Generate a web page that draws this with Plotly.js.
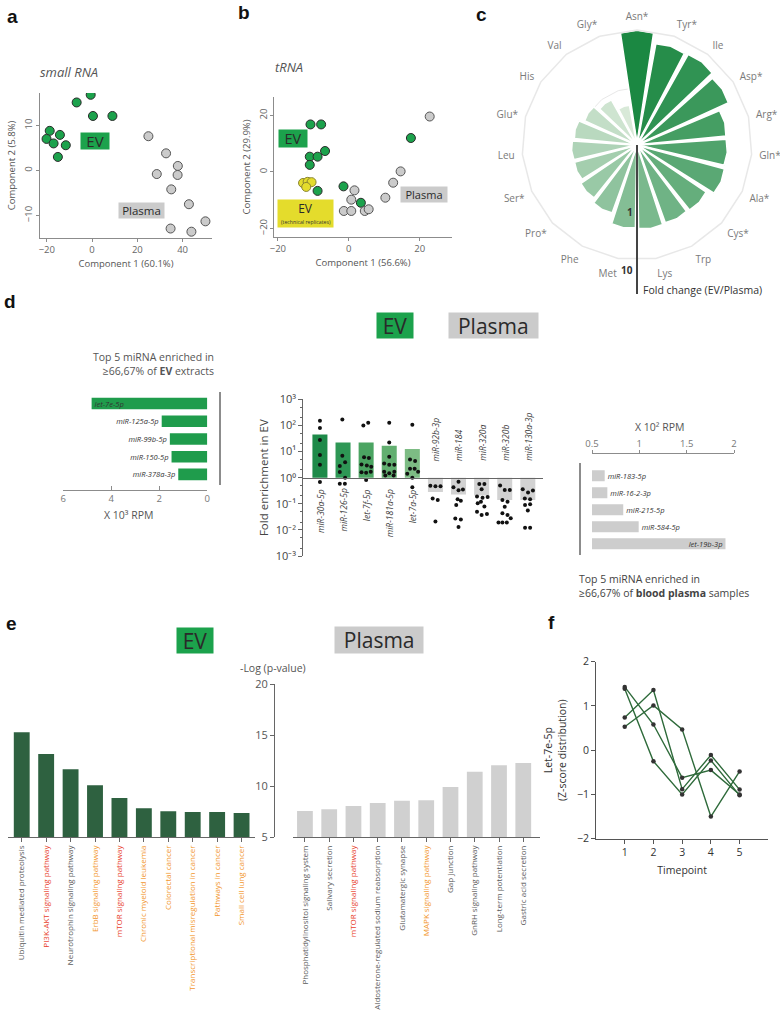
<!DOCTYPE html>
<html><head><meta charset="utf-8">
<script src="https://cdn.plot.ly/plotly-3.0.1.min.js"></script>
<style>html,body{margin:0;padding:0;background:#fff;}#chart{width:780px;height:1018px;}</style>
</head><body><div id="chart"></div>
<script>
const W=780,H=1018;
const px=v=>v/W, py=v=>1-v/H;
const FONT="'Open Sans', sans-serif";

// ---------- a: small RNA PCA ----------
const aEV_x=[-0.6,-6.8,0.4,9.0,-18.7,-20.1,-14.2,-17.0,-11.6,-15.1];
const aEV_y=[16.8,15.1,12.1,12.1,8.8,7.0,7.9,6.0,5.6,3.0];
const aPl_x=[24.9,32.7,37.9,28.6,37.8,35.0,42.8,50.1,34.7,43.9];
const aPl_y=[7.6,3.8,1.0,-0.8,-1.0,-4.2,-7.5,-11.3,-12.9,-13.6];
// ---------- b: tRNA PCA ----------
const bEV_x=[-10.8,-7.8,-6.7,-11.0,-8.8,-11.0,-8.8,-1.5,3.4,17.5];
const bEV_y=[16.8,16.8,7.4,5.4,5.4,2.5,-6.7,-5.1,-10.9,12.0];
const bRep_x=[-12.9,-11.6,-10.5,-12.0];
const bRep_y=[-3.9,-3.5,-3.6,-5.3];
const bPl_x=[22.8,14.6,12.5,10.3,1.6,0.7,-1.4,0.7,4.5,5.6];
const bPl_y=[19.6,0.2,-3.8,-9.1,-6.5,-9.8,-13.8,-13.8,-13.8,-13.2];
// ---------- c: tRNA fold change ----------
const cAcids=['Asn*','Tyr*','Ile','Asp*','Arg*','Gln*','Ala*','Cys*','Trp','Lys','Met','Phe','Pro*','Ser*','Leu','Glu*','His','Val','Gly*'];
const cFold=[10,6.6,6.9,6.0,3.8,3.8,4.0,3.0,2.9,3.0,2.9,1.9,1.6,1.4,1.4,1.3,1.05,0.83,0.52];
const cRadialTicks=['1','10'];
// ---------- d: miRNA ----------
const dEV_names=['let-7e-5p','miR-125a-5p','miR-99b-5p','miR-150-5p','miR-378a-3p'];
const dEV_rpm=[4.82,1.9,1.56,1.49,1.21];
const dMid_names=['miR-30a-5p','miR-126-5p','let-7f-5p','miR-181a-5p','let-7a-5p','miR-92b-3p','miR-184','miR-320a','miR-320b','miR-130a-3p'];
const dMid_fold=[45,22.4,22.4,16.7,12.5,0.283,0.224,0.205,0.14,0.14];
const dMid_dots=[
 [150,79,27.5,7.3,3.1,0.68],
 [170,6.9,3.9,2.8,1.65,1.0,0.59,0.59],
 [100,126,6.0,5.6,3.2,2.9,2.6,1.6,1.55,1.7,0.82],
 [126,22.4,6.3,3.5,3.1,3.1,1.7,1.46,1.7,1.2,1.2],
 [105,5.0,4.3,2.2,2.2,1.7,1.4,1.0,0.43],
 [0.49,0.47,0.47,0.16,0.14,0.021],
 [0.7,0.43,0.33,0.35,0.15,0.13,0.09,0.027,0.025,0.013],
 [0.57,0.57,0.36,0.19,0.17,0.18,0.12,0.105,0.078,0.05,0.037,0.041],
 [0.5,0.34,0.34,0.14,0.12,0.077,0.043,0.037,0.028,0.019,0.019,0.019],
 [0.36,0.27,0.32,0.16,0.15,0.09,0.095,0.055,0.012,0.012]
];
const dMid_jitter=[
 [0,0,0,0,0,0],
 [-0.03,-0.03,0.09,-0.14,-0.14,0.09,-0.14,0.08],
 [-0.12,0.09,-0.09,0.12,-0.2,0.03,0.22,-0.2,0,0.2,0],
 [0,0,0,-0.22,0,0.22,-0.22,0,0.22,-0.17,0.19],
 [0,-0.1,0.12,-0.1,0.1,0.25,-0.22,0,0],
 [-0.22,0,0.22,-0.12,0.1,0],
 [0,-0.22,0,0.19,-0.04,0.1,-0.1,-0.14,0.1,0],
 [-0.1,0.12,0,-0.2,0.04,0.26,-0.03,-0.17,0.12,-0.2,0,0.23],
 [-0.2,0,0.22,-0.1,0.12,0,-0.1,0.12,0.26,-0.27,-0.1,0.09],
 [-0.22,0.01,0.22,-0.13,0.1,-0.12,0.1,0,-0.12,0.1]
];
const dMid_ticks=['10⁻³','10⁻²','10⁻¹','10⁰','10¹','10²','10³'];
const dPl_names=['miR-183-5p','miR-16-2-3p','miR-215-5p','miR-584-5p','let-19b-3p'];
const dPl_rpm=[0.634,0.662,0.83,0.993,1.91];
// ---------- e: pathways ----------
const eEV_names=['Ubiquitin mediated proteolysis','PI3K-AKT signaling pathway','Neurotrophin signaling pathway','ErbB signaling pathway','mTOR signaling pathway','Chronic myeloid leukemia','Colorectal cancer','Transcriptional misregulation in cancer','Pathways in cancer','Small cell lung cancer'];
const eEV_vals=[15.27,13.15,11.65,10.09,8.85,7.84,7.54,7.48,7.48,7.38];
const eEV_kind=['other','mtor','other','cancer','mtor','cancer','cancer','cancer','cancer','cancer'];
const ePl_names=['Phosphatidylinositol signaling system','Salivary secretion','mTOR signaling pathway','Aldosterone-regulated sodium reabsorption','Glutamatergic synapse','MAPK signaling pathway','Gap junction','GnRH signaling pathway','Long-term potentiation','Gastric acid secretion'];
const ePl_vals=[7.57,7.74,8.06,8.36,8.58,8.62,9.92,11.42,12.05,12.27];
const ePl_kind=['other','other','mtor','other','other','cancer','other','other','other','other'];
// ---------- f: time course ----------
const fTime=[1,2,3,4,5];
const fA=[0.74,1.36,-0.88,-0.11,-0.89];
const fB=[0.53,1.01,0.47,-1.5,-0.48];
const fC=[1.43,0.58,-0.62,-0.45,-1.0];
const fD=[1.39,-0.25,-1.0,-0.23,-1.02];

// ---------- styling ----------
const GREEN='#1ca24c', GRAY='#cbcbcb', YEL='#e4dc2c';
const kindColor={other:'#5a5a5a',mtor:'#e8412c',cancer:'#f2962c'};
function lerpColor(a,b,t){return 'rgb('+a.map((v,i)=>Math.round(v+(b[i]-v)*t)).join(',')+')';}
const cColors=cAcids.map((_,i)=>lerpColor([27,136,66],[216,233,216],i/(cAcids.length-1)));

const traces=[];
const mk=(c,l)=>({size:9,color:c,line:{color:l,width:1}});
traces.push({type:'scatter',mode:'markers',x:aEV_x,y:aEV_y,xaxis:'x',yaxis:'y',marker:mk(GREEN,'#2a2a2a')});
traces.push({type:'scatter',mode:'markers',x:aPl_x,y:aPl_y,xaxis:'x',yaxis:'y',marker:mk(GRAY,'#555')});
traces.push({type:'scatter',mode:'markers',x:bEV_x,y:bEV_y,xaxis:'x2',yaxis:'y2',marker:mk(GREEN,'#2a2a2a')});
traces.push({type:'scatter',mode:'markers',x:bPl_x,y:bPl_y,xaxis:'x2',yaxis:'y2',marker:mk(GRAY,'#555')});
traces.push({type:'scatter',mode:'markers',x:bRep_x,y:bRep_y,xaxis:'x2',yaxis:'y2',marker:mk(YEL,'#8a8530')});

traces.push({type:'barpolar',theta:cAcids,r:cFold,subplot:'polar',marker:{color:cColors,line:{color:'#fff',width:2}}});

traces.push({type:'bar',orientation:'h',x:dEV_rpm,y:dEV_names,xaxis:'x3',yaxis:'y3',marker:{color:'#1f9c4c'},
  text:dEV_names,textposition:['inside','outside','outside','outside','outside'],insidetextanchor:'end',constraintext:'none',
  textfont:{family:FONT,size:7.5,color:'#333',style:'italic'},cliponaxis:false});
const midColors=['#1e8a49','#2e9755','#4ba462','#62af70','#7dbc84','#d2d2d2','#d2d2d2','#d2d2d2','#d2d2d2','#d2d2d2'];
traces.push({type:'bar',x:dMid_names,y:dMid_fold.map(v=>v-1),base:dMid_fold.map(()=>1),xaxis:'x4',yaxis:'y4',marker:{color:midColors}});
const dotX=[],dotY=[];
dMid_dots.forEach((arr,i)=>arr.forEach((v,j)=>{dotX.push(i+dMid_jitter[i][j]);dotY.push(v);}));
traces.push({type:'scatter',mode:'markers',x:dotX,y:dotY,xaxis:'x5',yaxis:'y4',marker:{size:4,color:'#111'},cliponaxis:false});
traces.push({type:'bar',orientation:'h',x:dPl_rpm,y:dPl_names,xaxis:'x6',yaxis:'y6',marker:{color:'#cdcdcd'},
  text:dPl_names,textposition:['outside','outside','outside','outside','inside'],insidetextanchor:'end',constraintext:'none',
  textfont:{family:FONT,size:7.5,color:'#333',style:'italic'},cliponaxis:false});

traces.push({type:'bar',x:eEV_names,y:eEV_vals,xaxis:'x7',yaxis:'y7',marker:{color:'#2e6140'}});
traces.push({type:'bar',x:ePl_names,y:ePl_vals,xaxis:'x8',yaxis:'y8',marker:{color:'#d0d0d0'}});

[fA,fB,fC,fD].forEach(s=>traces.push({type:'scatter',mode:'lines+markers',x:fTime,y:s,xaxis:'x9',yaxis:'y9',
  line:{color:'#2f6b3b',width:1.4},marker:{size:4.5,color:'#333'}}));
traces.forEach(t=>{t.showlegend=false;t.hoverinfo='skip';});

const base=o=>Object.assign({showgrid:false,zeroline:false,showline:true,linecolor:'#8c8c8c',tickcolor:'#8c8c8c',linewidth:1,fixedrange:true,tickfont:{family:FONT,size:9.5,color:'#666'}},o);
const tf=(s,c)=>({family:FONT,size:s,color:c});

const layout={
 width:W,height:H,margin:{l:0,r:0,t:0,b:0},paper_bgcolor:'#fff',plot_bgcolor:'rgba(0,0,0,0)',
 font:{family:FONT,color:'#555'},showlegend:false,bargap:0.35,
 xaxis:base({domain:[px(40),px(212)],range:[-23,53],anchor:'y',ticks:'outside',ticklen:3,tickvals:[-20,0,20,40],
   title:{text:'Component 1 (60.1%)',font:tf(9.5,'#555'),standoff:4}}),
 yaxis:base({domain:[py(238),py(93)],range:[-15,17.2],anchor:'x',ticks:'outside',ticklen:3,tickvals:[-10,0,10],tickangle:-90,
   title:{text:'Component 2 (5.8%)',font:tf(9.5,'#555'),standoff:4}}),
 xaxis2:base({domain:[px(274.3),px(451.7)],range:[-21,29],anchor:'y2',ticks:'outside',ticklen:3,tickvals:[-20,0,20],
   title:{text:'Component 1 (56.6%)',font:tf(9.5,'#555'),standoff:4}}),
 yaxis2:base({domain:[py(237),py(97)],range:[-23,26.5],anchor:'x2',ticks:'outside',ticklen:3,tickvals:[-20,0,20],tickangle:-90,
   title:{text:'Component 2 (29.9%)',font:tf(9.5,'#555'),standoff:4}}),
 polar:{domain:{x:[px(522),px(752)],y:[py(260),py(30)]},gridshape:'linear',bgcolor:'rgba(0,0,0,0)',bargap:0.1,
   angularaxis:{type:'category',categoryorder:'array',categoryarray:cAcids,direction:'clockwise',rotation:90,showgrid:false,
     linecolor:'#e8e8e8',linewidth:1.5,ticks:'outside',ticklen:5,tickcolor:'rgba(0,0,0,0)',tickfont:tf(10,'#7a7a7a')},
   radialaxis:{type:'log',range:[-1,1],tickvals:[1,10],showline:false,showticklabels:false,gridcolor:'#e8e8e8',ticks:''}},
 xaxis3:base({domain:[px(63.3),px(207.3)],range:[6,0],anchor:'free',position:py(490),ticks:'inside',ticklen:4,tickvals:[0,2,4,6],tickfont:tf(9.5,'#777')}),
 yaxis3:base({domain:[py(485),py(392)],type:'category',range:[4.6,-0.65],anchor:'free',position:px(219.3),showticklabels:false,ticks:'',linewidth:1.5}),
 xaxis4:base({domain:[px(303.3),px(543.3)],type:'category',range:[-0.72,9.67],anchor:'free',position:py(477.7),showticklabels:false,ticks:'',linecolor:'#666'}),
 yaxis4:base({domain:[py(556),py(399.3)],type:'log',range:[-3,3],anchor:'x4',linecolor:'#666',tickcolor:'#666',ticks:'outside',ticklen:4,
   tickvals:[0.001,0.01,0.1,1,10,100,1000],ticktext:dMid_ticks,
   minor:{ticks:'outside',ticklen:2,dtick:'D2',tickcolor:'#666'},tickfont:tf(11,'#444'),
   title:{text:'Fold enrichment in EV',font:tf(11.5,'#444'),standoff:4}}),
 xaxis5:{overlaying:'x4',range:[-0.72,9.67],anchor:'y4',visible:false,fixedrange:true},
 xaxis6:base({domain:[px(592),px(734)],range:[0.5,2],side:'top',anchor:'free',position:py(453.3),ticks:'outside',ticklen:3,tickvals:[0.5,1,1.5,2],tickfont:tf(9.5,'#777')}),
 yaxis6:base({domain:[py(555),py(463)],type:'category',range:[4.66,-0.75],anchor:'free',position:px(579.3),showticklabels:false,ticks:'',linewidth:1.5}),
 xaxis7:base({domain:[px(8.3),px(255)],range:[-0.55,9.55],anchor:'y7',ticks:'outside',ticklen:4,tickangle:-90,linecolor:'#666',tickcolor:'#666',
   tickvals:eEV_names,ticktext:eEV_names.map((n,i)=>'<span style="color:'+kindColor[eEV_kind[i]]+'">'+n+'</span>'),tickfont:tf(8,'#555')}),
 yaxis7:{domain:[py(837.3),py(684)],range:[5,20],visible:false,fixedrange:true},
 xaxis8:base({domain:[px(293.3),px(540)],range:[-0.48,9.69],anchor:'y8',ticks:'outside',ticklen:4,tickangle:-90,linecolor:'#666',tickcolor:'#666',
   tickvals:ePl_names,ticktext:ePl_names.map((n,i)=>'<span style="color:'+kindColor[ePl_kind[i]]+'">'+n+'</span>'),tickfont:tf(8,'#555')}),
 yaxis8:base({domain:[py(837.3),py(684)],range:[5,20],anchor:'free',position:px(274),ticks:'outside',ticklen:4,linecolor:'#666',tickcolor:'#666',tickvals:[5,10,15,20],tickfont:tf(11,'#555')}),
 xaxis9:base({domain:[px(596),px(768.3)],range:[0,6],anchor:'y9',ticks:'outside',ticklen:4,tickvals:[1,2,3,4,5],linecolor:'#555',tickcolor:'#555',tickfont:tf(10.5,'#333'),
   title:{text:'Timepoint',font:tf(10.5,'#333'),standoff:8}}),
 yaxis9:base({domain:[py(838.7),py(661.7)],range:[-2,2],anchor:'x9',ticks:'outside',ticklen:4,tickvals:[-2,-1,0,1,2],linecolor:'#555',tickcolor:'#555',tickfont:tf(10.5,'#333'),
   title:{text:'Let-7e-5p<br>(Z-score distribution)',font:tf(10.5,'#333'),standoff:8}}),
 shapes:[{type:'line',xref:'paper',yref:'paper',x0:px(637),x1:px(637),y0:py(145),y1:py(294),line:{color:'#444',width:2}}],
 annotations:[]
};
const A=layout.annotations;
function note(text,x,y,o){A.push(Object.assign({text:text,x:px(x),y:py(y),xref:'paper',yref:'paper',showarrow:false,xanchor:'center',yanchor:'middle',font:tf(11,'#555')},o||{}));}
function box(text,cx,cy,w,h,bg,size,o){note(text,cx,cy,Object.assign({bgcolor:bg,width:w,height:h,borderpad:0,valign:'middle',font:tf(size,'#2a2a2a')},o||{}));}
const LET={family:"'Liberation Sans', Arial, sans-serif",size:19,color:'#111',weight:700};
note('a',12,16,{font:LET});
note('b',244,13,{font:LET});
note('c',481,14,{font:LET});
note('d',10,301,{font:LET});
note('e',11,623,{font:LET});
note('f',551,622,{font:LET});
// a, b texts
note('small RNA',38,72,{xanchor:'left',font:{family:FONT,size:13,color:'#555',style:'italic'}});
note('tRNA',273,67,{xanchor:'left',font:{family:FONT,size:13,color:'#555',style:'italic'}});
box('EV',95,141,28,16,GREEN,15);
box('Plasma',141.5,210.5,45,15,GRAY,11.5);
box('EV',293,138.5,28,17,GREEN,14.5);
box('Plasma',424,194.5,46,15,GRAY,11);
box('EV',305.5,213.5,55,27,YEL,12,{valign:'top'});
note('(technical replicates)',305.5,222.5,{font:tf(5.2,'#333')});
// c
cRadialTicks.forEach((t,i)=>note(t,i===0?630:627,i===0?212:270,{font:{family:FONT,size:10,color:'#333',weight:700}}));
note('Fold change (EV/Plasma)',641,290,{xanchor:'left',font:tf(10.5,'#333')});
// d
box('EV',394.7,325.8,36,25,GREEN,21);
box('Plasma',493.3,325.8,88.7,25,GRAY,21);
note('Top 5 miRNA enriched in<br>≥66,67% of <b>EV</b> extracts',216,364,{xanchor:'right',align:'right',font:tf(10.5,'#555')});
note('X 10³ RPM',128,515,{font:tf(10.5,'#555')});
note('X 10² RPM',659,427,{font:tf(10.5,'#555')});
note('Top 5 miRNA enriched in<br>≥66,67% of <b>blood plasma</b> samples',577,586,{xanchor:'left',align:'left',font:tf(10.5,'#444')});
dMid_names.forEach((n,i)=>{const up=dMid_fold[i]>1;
  A.push({text:n,x:n,xref:'x4',y:up?py(487):py(463),yref:'paper',xanchor:'center',yanchor:up?'top':'bottom',textangle:-90,showarrow:false,
    font:{family:FONT,size:8.5,color:'#444',style:'italic'}});});
// e
box('EV',195.3,640,36,25.4,GREEN,21);
box('Plasma',379.2,640,88.3,26,GRAY,21);
note('-Log (p-value)',273,668,{font:tf(10.5,'#555')});

Plotly.newPlot('chart',traces,layout,{staticPlot:true});
</script></body></html>
